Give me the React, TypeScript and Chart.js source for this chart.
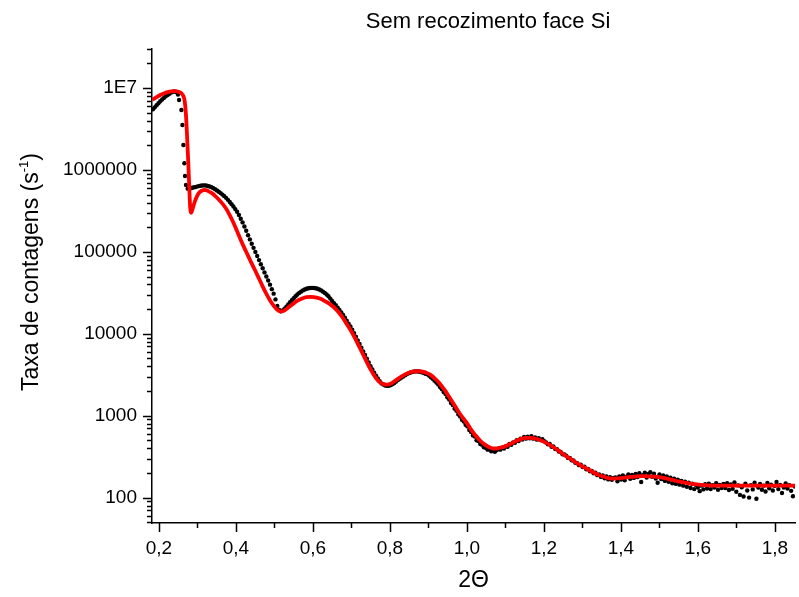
import React, { useEffect, useRef } from 'react';
import { Chart, registerables } from 'chart.js';

Chart.register(...registerables);

// ---------- texts ----------
const TITLE = 'Sem recozimento face Si';
const X_TITLE = '2\u0398';
const Y_TITLE_MAIN = 'Taxa de contagens (s';
const Y_TITLE_SUP = '-1';
const Y_TITLE_END = ')';

// ---------- axes ----------
const X_MIN = 0.182;
const X_MAX = 1.852;
const Y_MIN = 49;
const Y_MAX = 3e7;

const X_MAJOR = [0.2, 0.4, 0.6, 0.8, 1.0, 1.2, 1.4, 1.6, 1.8];
const X_MAJOR_LABELS = ['0,2', '0,4', '0,6', '0,8', '1,0', '1,2', '1,4', '1,6', '1,8'];
const X_MINOR = [0.3, 0.5, 0.7, 0.9, 1.1, 1.3, 1.5, 1.7];

const Y_MAJOR = [100, 1000, 10000, 100000, 1000000, 10000000];
const Y_MAJOR_LABELS = ['100', '1000', '10000', '100000', '1000000', '1E7'];
const Y_MINOR = [
  50, 60, 70, 80, 90,
  200, 300, 400, 500, 600, 700, 800, 900,
  2000, 3000, 4000, 5000, 6000, 7000, 8000, 9000,
  20000, 30000, 40000, 50000, 60000, 70000, 80000, 90000,
  200000, 300000, 400000, 500000, 600000, 700000, 800000, 900000,
  2e6, 3e6, 4e6, 5e6, 6e6, 7e6, 8e6, 9e6,
  2e7, 3e7,
];

// ---------- fit (red line) ----------
const FIT_X = [
  0.1825, 0.1939, 0.2034, 0.2129, 0.2224, 0.2319, 0.2414, 0.2509, 0.2557, 0.2604,
  0.2652, 0.2680, 0.2709, 0.2737, 0.2766, 0.2794, 0.2813, 0.2832, 0.2851, 0.2889,
  0.2937, 0.2984, 0.3032, 0.3079, 0.3127, 0.3174, 0.3222, 0.3269, 0.3364, 0.3459,
  0.3554, 0.3649, 0.3743, 0.3838, 0.3933, 0.4028, 0.4123, 0.4218, 0.4313, 0.4408,
  0.4503, 0.4598, 0.4693, 0.4788, 0.4883, 0.4978, 0.5073, 0.5168, 0.5263, 0.5358,
  0.5453, 0.5548, 0.5643, 0.5738, 0.5833, 0.5928, 0.6023, 0.6118, 0.6213, 0.6308,
  0.6403, 0.6498, 0.6593, 0.6688, 0.6783, 0.6878, 0.6973, 0.7067, 0.7162, 0.7257,
  0.7352, 0.7447, 0.7542, 0.7637, 0.7732, 0.7827, 0.7922, 0.8017, 0.8112, 0.8207,
  0.8302, 0.8397, 0.8492, 0.8587, 0.8682, 0.8777, 0.8872, 0.8967, 0.9062, 0.9157,
  0.9252, 0.9347, 0.9442, 0.9537, 0.9632, 0.9727, 0.9822, 0.9917, 1.0012, 1.0107,
  1.0201, 1.0296, 1.0391, 1.0486, 1.0581, 1.0676, 1.0771, 1.0866, 1.0961, 1.1056,
  1.1151, 1.1246, 1.1341, 1.1436, 1.1531, 1.1626, 1.1721, 1.1816, 1.1911, 1.2006,
  1.2131, 1.2246, 1.2361, 1.2476, 1.2591, 1.2706, 1.2821, 1.2936, 1.3051, 1.3166,
  1.3281, 1.3396, 1.3511, 1.3616, 1.3711, 1.3806, 1.3996, 1.4186, 1.4376, 1.4566,
  1.4756, 1.4945, 1.5135, 1.5325, 1.5515, 1.5705, 1.5895, 1.6085, 1.6275, 1.6465,
  1.6655, 1.7324, 1.8521,
];
const FIT_Y = [
  7.16e6, 7.76e6, 8.22e6, 8.61e6, 8.91e6, 9.12e6, 9.18e6, 9.02e6, 8.81e6, 8.41e6,
  7.59e6, 6.31e6, 4.17e6, 2.24e6, 1.12e6, 5.25e5, 3.39e5, 2.99e5, 3.09e5, 3.55e5,
  4.17e5, 4.73e5, 5.19e5, 5.46e5, 5.62e5, 5.70e5, 5.68e5, 5.56e5, 5.25e5, 4.84e5,
  4.37e5, 3.89e5, 3.39e5, 2.82e5, 2.29e5, 1.80e5, 1.41e5, 1.12e5, 9.02e4, 7.24e4,
  5.89e4, 4.73e4, 3.80e4, 3.09e4, 2.57e4, 2.21e4, 1.97e4, 1.87e4, 1.93e4, 2.09e4,
  2.26e4, 2.45e4, 2.60e4, 2.72e4, 2.80e4, 2.82e4, 2.81e4, 2.75e4, 2.66e4, 2.51e4,
  2.37e4, 2.19e4, 2.00e4, 1.78e4, 1.55e4, 1.32e4, 1.12e4, 9.33e3, 7.59e3, 6.17e3,
  5.01e3, 4.07e3, 3.39e3, 2.88e3, 2.57e3, 2.43e3, 2.40e3, 2.45e3, 2.63e3, 2.82e3,
  3.02e3, 3.20e3, 3.35e3, 3.45e3, 3.49e3, 3.49e3, 3.43e3, 3.31e3, 3.13e3, 2.88e3,
  2.60e3, 2.29e3, 2.00e3, 1.70e3, 1.45e3, 1.23e3, 1.05e3, 912, 794, 676,
  589, 525, 473, 437, 412, 398, 398, 407, 417, 437,
  457, 484, 507, 525, 535, 537, 531, 519, 501, 479,
  447, 412, 380, 347, 316, 295, 269, 251, 234, 219,
  204, 191, 182, 176, 172, 171, 173, 178, 181, 183,
  182, 179, 173, 165, 157, 151, 146, 143, 141, 140,
  140, 140, 140,
];

// ---------- measured data (black dots) ----------
const HEAD_X = [
  0.1845, 0.1892, 0.1939, 0.1987, 0.2034, 0.2082, 0.2129, 0.2177, 0.2224, 0.2272,
  0.2319, 0.2367, 0.2414, 0.2462, 0.2495, 0.2523, 0.2584, 0.2610, 0.2636, 0.2661,
  0.2677, 0.2703,
];
const HEAD_Y = [
  5.50e6, 5.82e6, 6.17e6, 6.53e6, 6.92e6, 7.24e6, 7.59e6, 7.94e6, 8.22e6, 8.51e6,
  8.81e6, 9.02e6, 9.08e6, 8.91e6, 8.32e6, 7.14e6, 5.40e6, 3.54e6, 2.02e6, 1.21e6,
  8.45e5, 6.56e5,
];

const DATA_STEP = 0.00475;

const SEG_B_START = 0.2747;
const SEG_B = [
  5.92e5, 5.96e5, 6.03e5, 6.10e5, 6.17e5, 6.27e5, 6.35e5, 6.43e5, 6.47e5, 6.49e5,
  6.46e5, 6.38e5, 6.28e5, 6.17e5, 6.00e5, 5.82e5, 5.62e5, 5.43e5, 5.22e5, 5.01e5,
  4.79e5, 4.57e5, 4.32e5, 4.07e5, 3.83e5, 3.59e5, 3.33e5, 3.09e5, 2.82e5, 2.54e5,
  2.29e5, 2.04e5, 1.81e5, 1.60e5, 1.42e5, 1.26e5, 1.12e5, 1.00e5, 8.91e4, 7.94e4,
  7.08e4, 6.31e4, 5.62e4, 5.01e4, 4.47e4, 3.98e4, 3.51e4, 3.09e4, 2.63e4, 2.19e4,
  1.95e4,
];

const SEG_C_START = 0.5168;
const SEG_C = [
  1.88e4, 1.93e4, 2.02e4, 2.14e4, 2.29e4, 2.43e4, 2.57e4, 2.72e4, 2.88e4, 3.02e4,
  3.16e4, 3.27e4, 3.39e4, 3.47e4, 3.55e4, 3.60e4, 3.63e4, 3.64e4, 3.63e4, 3.60e4,
  3.55e4, 3.47e4, 3.39e4, 3.27e4, 3.16e4, 3.02e4, 2.87e4, 2.69e4, 2.51e4, 2.37e4,
  2.24e4, 2.09e4, 1.95e4, 1.82e4, 1.70e4, 1.57e4, 1.45e4, 1.33e4, 1.23e4, 1.12e4,
  1.02e4, 9.23e3, 8.32e3, 7.50e3, 6.76e3, 6.10e3, 5.50e3, 4.95e3, 4.47e3, 4.03e3,
  3.67e3, 3.35e3, 3.09e3, 2.85e3, 2.63e3, 2.48e3, 2.40e3, 2.34e3, 2.32e3, 2.32e3,
  2.36e3,
];

const SEG_D_START = 0.8065;
const SEG_D = [
  2.43e3, 2.51e3, 2.62e3, 2.72e3, 2.82e3, 2.92e3, 3.02e3, 3.13e3, 3.22e3, 3.31e3,
  3.37e3, 3.43e3, 3.47e3, 3.48e3, 3.47e3, 3.44e3, 3.40e3, 3.34e3, 3.25e3,
  3.20e3, 3.09e3, 2.95e3, 2.82e3, 2.68e3, 2.54e3, 2.40e3, 2.24e3, 2.11e3, 1.95e3,
  1.84e3, 1.68e3, 1.58e3, 1.43e3, 1.35e3, 1.22e3, 1.15e3, 1.04e3, 977, 891,
  851, 776, 741, 668, 631, 575, 556, 501, 490, 452,
  442, 412, 407, 385, 389, 367, 376, 363,
];

const SEG_E_START = 1.0772;
const SEG_E = [
  380, 398, 385, 407, 398, 422, 417, 452, 442, 473,
  468, 501, 490, 525, 513, 550, 525, 556, 531, 562,
  525, 543, 510, 530, 505, 515, 488, 470, 448, 452,
  418, 420, 392, 390, 366, 362, 338, 336, 326, 305,
  304, 285, 284, 266, 264, 249, 252, 236, 238, 222,
  224, 210, 212, 198, 201, 188, 192, 179, 186, 172,
  181, 167, 177, 165, 174,
];

const SEG_F_START = 1.386;
const SEG_F = [
  176, 158, 181, 166, 186, 163, 180, 192, 170, 189,
  174, 195, 178, 199, 155, 188, 201, 176, 194, 205,
  180, 196, 171, 152, 192, 168, 186, 160, 181, 156,
  175, 150, 170, 147, 165, 144, 160, 140, 156, 136,
  152, 131, 148, 127, 143, 133, 120, 140, 126, 146,
  129, 148, 127, 142, 133, 150, 125, 143, 131, 147,
];

const SEG_G_START = 1.671;
const SEG_G = [
  131, 150, 124, 145, 128, 153, 118, 141, 108, 134,
  103, 148, 122, 100, 142, 126, 152, 97, 133, 147,
  125, 140, 119, 151, 130, 144, 122, 139, 155, 127,
  143, 114, 133, 149, 129, 142, 121, 104, 137,
];

const FONT_FAMILY = '"Liberation Sans", Arial, Helvetica, sans-serif';

function buildDataPoints() {
  const pts: { x: number; y: number }[] = HEAD_X.map((x, i) => ({ x, y: HEAD_Y[i] }));
  const segs: [number, number[]][] = [
    [SEG_B_START, SEG_B],
    [SEG_C_START, SEG_C],
    [SEG_D_START, SEG_D],
    [SEG_E_START, SEG_E],
    [SEG_F_START, SEG_F],
    [SEG_G_START, SEG_G],
  ];
  segs.forEach(([start, arr]) => {
    arr.forEach((y, i) => pts.push({ x: +(start + i * DATA_STEP).toFixed(5), y }));
  });
  return pts;
}

const decorPlugin = {
  id: 'decor',
  afterDraw(chart: any) {
    const { ctx, chartArea, scales } = chart;
    const xs = scales.x;
    const ys = scales.y;
    ctx.save();
    ctx.strokeStyle = '#000';
    ctx.lineWidth = 1.5;
    ctx.beginPath();
    X_MAJOR.forEach((v) => {
      const p = Math.round(xs.getPixelForValue(v)) + 0.5;
      ctx.moveTo(p, chartArea.bottom);
      ctx.lineTo(p, chartArea.bottom + 9);
    });
    X_MINOR.forEach((v) => {
      const p = Math.round(xs.getPixelForValue(v)) + 0.5;
      ctx.moveTo(p, chartArea.bottom);
      ctx.lineTo(p, chartArea.bottom + 5);
    });
    Y_MAJOR.forEach((v) => {
      const p = Math.round(ys.getPixelForValue(v)) + 0.5;
      ctx.moveTo(chartArea.left, p);
      ctx.lineTo(chartArea.left - 9, p);
    });
    Y_MINOR.forEach((v) => {
      const p = Math.round(ys.getPixelForValue(v)) + 0.5;
      ctx.moveTo(chartArea.left, p);
      ctx.lineTo(chartArea.left - 5, p);
    });
    ctx.stroke();

    // main title
    ctx.fillStyle = '#000';
    ctx.font = `22px ${FONT_FAMILY}`;
    ctx.textAlign = 'center';
    ctx.textBaseline = 'middle';
    ctx.fillText(TITLE, 488, 22);

    // y axis title with superscript
    const mainFont = `23px ${FONT_FAMILY}`;
    const supFont = `13px ${FONT_FAMILY}`;
    ctx.translate(38, 272);
    ctx.rotate(-Math.PI / 2);
    ctx.textAlign = 'left';
    ctx.textBaseline = 'alphabetic';
    ctx.font = mainFont;
    const w1 = ctx.measureText(Y_TITLE_MAIN).width;
    const w3 = ctx.measureText(Y_TITLE_END).width;
    ctx.font = supFont;
    const w2 = ctx.measureText(Y_TITLE_SUP).width;
    const x0 = -(w1 + w2 + w3) / 2;
    ctx.font = mainFont;
    ctx.fillText(Y_TITLE_MAIN, x0, 0);
    ctx.font = supFont;
    ctx.fillText(Y_TITLE_SUP, x0 + w1, -10);
    ctx.font = mainFont;
    ctx.fillText(Y_TITLE_END, x0 + w1 + w2, 0);
    ctx.restore();
  },
};

export default function App() {
  const canvasRef = useRef<HTMLCanvasElement | null>(null);

  useEffect(() => {
    if (!canvasRef.current) return;
    Chart.defaults.font.family = FONT_FAMILY;
    const dataPts = buildDataPoints();
    const fitPts = FIT_X.map((x, i) => ({ x, y: FIT_Y[i] }));

    const chart = new Chart(canvasRef.current, {
      type: 'line',
      data: {
        datasets: [
          {
            label: 'Ajuste',
            data: fitPts,
            borderColor: '#ff0000',
            borderWidth: 3.8,
            pointRadius: 0,
            cubicInterpolationMode: 'monotone',
            fill: false,
            order: 0,
          },
          {
            label: 'Dados',
            data: dataPts,
            showLine: false,
            pointRadius: 2.2,
            pointBackgroundColor: '#000',
            pointBorderWidth: 0,
            borderColor: '#000',
            order: 1,
          },
        ],
      },
      options: {
        responsive: false,
        animation: false,
        devicePixelRatio: 1,
        layout: { padding: { top: 49, left: 0, right: 0, bottom: 0 } },
        plugins: {
          legend: { display: false },
          tooltip: { enabled: false },
          title: { display: false },
        },
        scales: {
          x: {
            type: 'linear',
            min: X_MIN,
            max: X_MAX,
            bounds: 'data',
            afterBuildTicks: (scale: any) => {
              scale.ticks = [...X_MAJOR, ...X_MINOR].sort((a, b) => a - b).map((v) => ({ value: v }));
            },
            afterFit: (scale: any) => {
              scale.height = 74;
            },
            grid: {
              display: true,
              drawOnChartArea: false,
              drawTicks: true,
              tickLength: 9,
              color: 'rgba(0,0,0,0)',
            },
            border: { display: true, color: '#000', width: 1.5 },
            ticks: {
              autoSkip: false,
              maxRotation: 0,
              minRotation: 0,
              padding: 5,
              color: '#000',
              font: { size: 19, family: FONT_FAMILY },
              callback: (value: any) => {
                const i = X_MAJOR.findIndex((v) => Math.abs(v - Number(value)) < 1e-6);
                return i >= 0 ? X_MAJOR_LABELS[i] : '';
              },
            },
            title: {
              display: true,
              text: X_TITLE,
              color: '#000',
              font: { size: 23, family: FONT_FAMILY },
              padding: { top: 0, bottom: 3 },
            },
          },
          y: {
            type: 'logarithmic',
            min: Y_MIN,
            max: Y_MAX,
            bounds: 'data',
            afterBuildTicks: (scale: any) => {
              scale.ticks = [...Y_MAJOR, ...Y_MINOR].sort((a, b) => a - b).map((v) => ({ value: v }));
            },
            afterFit: (scale: any) => {
              scale.width = 152;
            },
            grid: {
              display: true,
              drawOnChartArea: false,
              drawTicks: true,
              tickLength: 9,
              color: 'rgba(0,0,0,0)',
            },
            border: { display: true, color: '#000', width: 1.5 },
            ticks: {
              autoSkip: false,
              padding: 6,
              color: '#000',
              font: { size: 19, family: FONT_FAMILY },
              callback: (value: any) => {
                const i = Y_MAJOR.findIndex((v) => Math.abs(v - Number(value)) < 1e-6 * v);
                return i >= 0 ? Y_MAJOR_LABELS[i] : '';
              },
            },
            title: { display: false },
          },
        },
      },
      plugins: [decorPlugin],
    } as any);

    return () => chart.destroy();
  }, []);

  return (
    <div style={{ position: 'absolute', left: 0, top: 0, width: 799, height: 597, background: '#fff' }}>
      <canvas ref={canvasRef} width={799} height={597} style={{ display: 'block', width: 799, height: 597 }} />
    </div>
  );
}
